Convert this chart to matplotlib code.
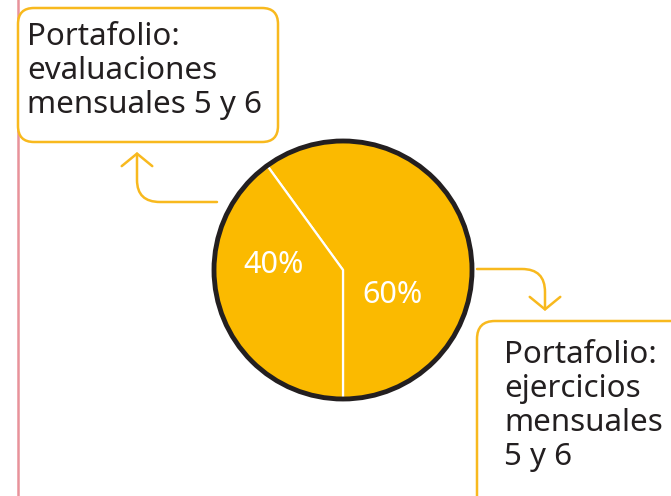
import matplotlib.pyplot as plt
from matplotlib.patches import FancyBboxPatch, Circle, FancyArrowPatch
from matplotlib.path import Path

# datos del gráfico
partes = [60, 40]
etiquetas = ['60%', '40%']
texto_izq = 'Portafolio:\nevaluaciones\nmensuales 5 y 6'
texto_der = 'Portafolio:\nejercicios\nmensuales\n5 y 6'

amarillo = '#FBBA00'
borde = '#F8B91E'
H = 496

def Y(y):
    return H - y

plt.rcParams['font.family'] = ['Noto Sans', 'DejaVu Sans']

fig = plt.figure(figsize=(6.71, 4.96), dpi=100)
ax = fig.add_axes([0, 0, 1, 1])

# torta
cx, cy, r = 343, Y(270), 129
ax.pie(partes, colors=[amarillo, amarillo], startangle=270, counterclock=True,
       center=(cx, cy), radius=r, frame=True,
       wedgeprops=dict(edgecolor='white', linewidth=1.6))
ax.add_patch(Circle((cx, cy), r, fill=False, edgecolor='#231F20', lw=3.5, zorder=5))

ax.text(274, Y(265), etiquetas[1], color='white', fontsize=22, ha='center', va='center', zorder=6)
ax.text(392, Y(295), etiquetas[0], color='white', fontsize=22, ha='center', va='center', zorder=6)

# línea rosa del margen
ax.plot([18, 18], [0, H], color='#E8929B', lw=1.8, zorder=1)

# cajas
ax.add_patch(FancyBboxPatch((18, Y(142)), 260, 134, boxstyle='round,pad=0,rounding_size=16',
                            facecolor='white', edgecolor=borde, lw=1.8, zorder=3))
ax.text(27, Y(22), texto_izq, fontsize=22.5, color='#231F20', va='top', ha='left',
        linespacing=1.17, zorder=4)

ax.add_patch(FancyBboxPatch((477, Y(520)), 230, 199, boxstyle='round,pad=0,rounding_size=18',
                            facecolor='white', edgecolor=borde, lw=1.8, zorder=3))
ax.text(504, Y(340), texto_der, fontsize=22.5, color='#231F20', va='top', ha='left',
        linespacing=1.17, zorder=4)

# flechas
p1 = Path([(217, Y(202)), (160, Y(202)), (137, Y(202)), (137, Y(180)), (137, Y(152))],
          [Path.MOVETO, Path.LINETO, Path.CURVE3, Path.CURVE3, Path.LINETO])
ax.add_patch(FancyArrowPatch(path=p1, arrowstyle='->,head_length=0.45,head_width=0.55',
                             mutation_scale=20, color=borde, lw=1.8, zorder=2))
p2 = Path([(477, Y(269)), (522, Y(269)), (545, Y(269)), (545, Y(292)), (545, Y(311))],
          [Path.MOVETO, Path.LINETO, Path.CURVE3, Path.CURVE3, Path.LINETO])
ax.add_patch(FancyArrowPatch(path=p2, arrowstyle='->,head_length=0.45,head_width=0.55',
                             mutation_scale=20, color=borde, lw=1.8, zorder=2))

ax.set_xlim(0, 671)
ax.set_ylim(0, H)
ax.set_aspect('auto')
ax.axis('off')

fig.savefig('out.png', dpi=100)
